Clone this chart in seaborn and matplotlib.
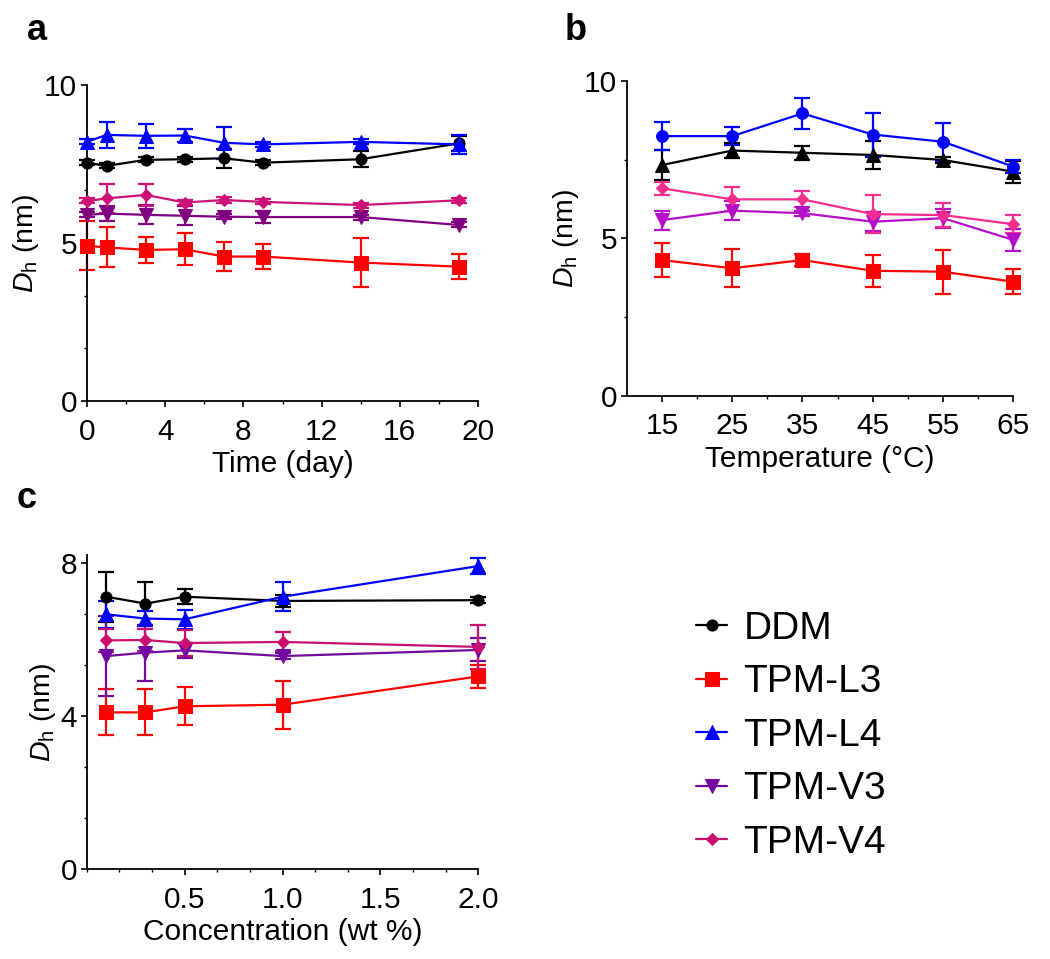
import numpy as np
import seaborn as sns
import matplotlib.pyplot as plt
from matplotlib.ticker import MultipleLocator, FixedLocator, FormatStrFormatter

# ---- data -------------------------------------------------------------
names = ["DDM", "TPM-L3", "TPM-L4", "TPM-V3", "TPM-V4"]

# panel a: stability over time
days = [0, 1, 3, 5, 7, 9, 14, 19]
a_ddm = [7.54, 7.44, 7.63, 7.65, 7.68, 7.54, 7.65, 8.15]
a_ddm_err = [0.08, 0.08, 0.08, 0.08, 0.30, 0.08, 0.25, 0.25]
a_l3 = [4.91, 4.86, 4.78, 4.80, 4.57, 4.57, 4.38, 4.25]
a_l3_err = [0.77, 0.63, 0.40, 0.50, 0.45, 0.40, 0.77, 0.40]
a_l4 = [8.20, 8.42, 8.39, 8.40, 8.17, 8.12, 8.20, 8.12]
a_l4_err = [0.08, 0.40, 0.38, 0.22, 0.50, 0.08, 0.08, 0.30]
a_v3 = [5.89, 5.93, 5.89, 5.86, 5.83, 5.82, 5.82, 5.57]
a_v3_err = [0.08, 0.25, 0.30, 0.30, 0.08, 0.20, 0.08, 0.08]
a_v4 = [6.33, 6.41, 6.52, 6.28, 6.36, 6.30, 6.20, 6.35]
a_v4_err = [0.08, 0.45, 0.35, 0.08, 0.08, 0.08, 0.08, 0.08]

# panel b: temperature
temps = [15, 25, 35, 45, 55, 65]
b_ddm = [7.33, 7.79, 7.72, 7.65, 7.49, 7.12]
b_ddm_err = [0.47, 0.25, 0.22, 0.45, 0.08, 0.35]
b_l3 = [4.31, 4.05, 4.31, 3.97, 3.94, 3.62]
b_l3_err = [0.55, 0.60, 0.20, 0.50, 0.70, 0.40]
b_l4 = [8.25, 8.25, 8.97, 8.30, 8.07, 7.28]
b_l4_err = [0.45, 0.28, 0.50, 0.70, 0.60, 0.20]
b_v3 = [5.58, 5.88, 5.80, 5.53, 5.64, 4.95]
b_v3_err = [0.30, 0.30, 0.08, 0.30, 0.30, 0.35]
b_v4 = [6.59, 6.24, 6.24, 5.77, 5.74, 5.45]
b_v4_err = [0.20, 0.38, 0.25, 0.60, 0.38, 0.28]

# panel c: concentration
conc = [0.1, 0.3, 0.5, 1.0, 2.0]
c_ddm = [7.11, 6.93, 7.11, 7.00, 7.02]
c_ddm_err = [0.65, 0.57, 0.20, 0.15, 0.08]
c_l3 = [4.09, 4.09, 4.25, 4.29, 5.03]
c_l3_err = [0.60, 0.60, 0.50, 0.63, 0.30]
c_l4 = [6.65, 6.54, 6.52, 7.11, 7.91]
c_l4_err = [0.35, 0.20, 0.25, 0.38, 0.20]
c_v3 = [5.56, 5.65, 5.71, 5.56, 5.72]
c_v3_err = [1.05, 0.73, 0.20, 0.08, 0.30]
c_v4 = [5.97, 5.98, 5.90, 5.93, 5.80]
c_v4_err = [0.30, 0.30, 0.35, 0.25, 0.57]

# ---- styles -----------------------------------------------------------
style_a = [("black", "o", 8), ("#ff0000", "s", 9.5), ("#0000ff", "^", 9.5),
           ("#800080", "v", 9.5), ("#cc1177", "D", 6.5)]
style_b = [("black", "^", 9.5), ("#ff0000", "s", 9.5), ("#0000ff", "o", 8.5),
           ("#b40fc8", "v", 9.5), ("#f52d8c", "D", 6.5)]
style_c = [("black", "o", 8), ("#ff0000", "s", 9.5), ("#0000ff", "^", 9.5),
           ("#7209a0", "v", 9.5), ("#c8106e", "D", 6.5)]

sns.set_theme(style="ticks")
plt.rcParams["font.family"] = ["Liberation Sans", "DejaVu Sans"]
plt.rcParams["mathtext.fontset"] = "custom"
plt.rcParams["mathtext.rm"] = "Liberation Sans"
plt.rcParams["mathtext.it"] = "Liberation Sans:italic"
plt.rcParams["text.color"] = "black"
plt.rcParams["axes.labelcolor"] = "black"
plt.rcParams["xtick.color"] = "black"
plt.rcParams["ytick.color"] = "black"

fig = plt.figure(figsize=(10.5, 9.59), dpi=100)
ax_a = fig.add_axes([0.0829, 0.5819, 0.3724, 0.3295])
ax_b = fig.add_axes([0.5969, 0.5874, 0.3682, 0.3281])
ax_c = fig.add_axes([0.0826, 0.0938, 0.3729, 0.3275])


def draw(ax, x, series, errors, styles):
    for name, y, e, (col, mk, ms) in zip(names, series, errors, styles):
        ax.errorbar(x, y, yerr=e, fmt="none", ecolor=col, elinewidth=1.6,
                    capsize=5.5, capthick=1.6, zorder=2, clip_on=False)
        sns.lineplot(x=x, y=y, ax=ax, color=col, marker=mk, markersize=ms,
                     markeredgecolor=col, linewidth=1.6, label=name,
                     zorder=3, clip_on=False)
    ax.get_legend().remove()


draw(ax_a, days, [a_ddm, a_l3, a_l4, a_v3, a_v4],
     [a_ddm_err, a_l3_err, a_l4_err, a_v3_err, a_v4_err], style_a)
draw(ax_b, temps, [b_ddm, b_l3, b_l4, b_v3, b_v4],
     [b_ddm_err, b_l3_err, b_l4_err, b_v3_err, b_v4_err], style_b)
draw(ax_c, conc, [c_ddm, c_l3, c_l4, c_v3, c_v4],
     [c_ddm_err, c_l3_err, c_l4_err, c_v3_err, c_v4_err], style_c)

ylab = r"$\mathit{D}_\mathrm{h}$ (nm)"

ax_a.set_xlim(0, 20)
ax_a.set_ylim(0, 10)
ax_a.xaxis.set_major_locator(MultipleLocator(4))
ax_a.xaxis.set_minor_locator(MultipleLocator(2))
ax_a.yaxis.set_major_locator(MultipleLocator(5))
ax_a.yaxis.set_minor_locator(MultipleLocator(5 / 3))
ax_a.set_xlabel("Time (day)")

ax_b.set_xlim(10, 65)
ax_b.set_ylim(0, 10)
ax_b.xaxis.set_major_locator(FixedLocator(temps))
ax_b.xaxis.set_minor_locator(FixedLocator([20, 30, 40, 50, 60]))
ax_b.yaxis.set_major_locator(MultipleLocator(5))
ax_b.yaxis.set_minor_locator(MultipleLocator(2.5))
ax_b.set_xlabel("Temperature (°C)")

ax_c.set_xlim(0, 2.0)
ax_c.set_ylim(0, 8.2)
ax_c.xaxis.set_major_locator(FixedLocator([0.5, 1.0, 1.5, 2.0]))
ax_c.xaxis.set_major_formatter(FormatStrFormatter("%.1f"))
ax_c.xaxis.set_minor_locator(MultipleLocator(1 / 6))
ax_c.yaxis.set_major_locator(FixedLocator([0, 4, 8]))
ax_c.yaxis.set_minor_locator(MultipleLocator(4 / 3))
ax_c.set_xlabel("Concentration (wt %)")

for ax in (ax_a, ax_b, ax_c):
    sns.despine(ax=ax)
    for side in ("left", "bottom"):
        ax.spines[side].set_linewidth(1.3)
        ax.spines[side].set_color("black")
    ax.tick_params(which="major", length=4, width=1.2, labelsize=21.5,
                   direction="out")
    ax.tick_params(axis="x", which="major", pad=8)
    ax.tick_params(axis="y", which="major", pad=3)
    ax.tick_params(which="minor", length=2.5, width=1.0, direction="out")
    ax.set_ylabel(ylab, fontsize=20.5, labelpad=2)
    ax.xaxis.label.set_size(21.5)
    ax.xaxis.labelpad = 3

fig.text(0.026, 0.958, "a", fontsize=26, fontweight="bold", va="baseline")
fig.text(0.538, 0.958, "b", fontsize=26, fontweight="bold", va="baseline")
fig.text(0.016, 0.470, "c", fontsize=26, fontweight="bold", va="baseline")

handles, labels = ax_c.get_legend_handles_labels()
fig.legend(handles, labels, loc="upper left", bbox_to_anchor=(0.663, 0.363),
           frameon=False, fontsize=28, handlelength=0.8, handletextpad=0.42,
           labelspacing=0.45, borderpad=0, borderaxespad=0, numpoints=1)

fig.savefig("out.png", dpi=100)
